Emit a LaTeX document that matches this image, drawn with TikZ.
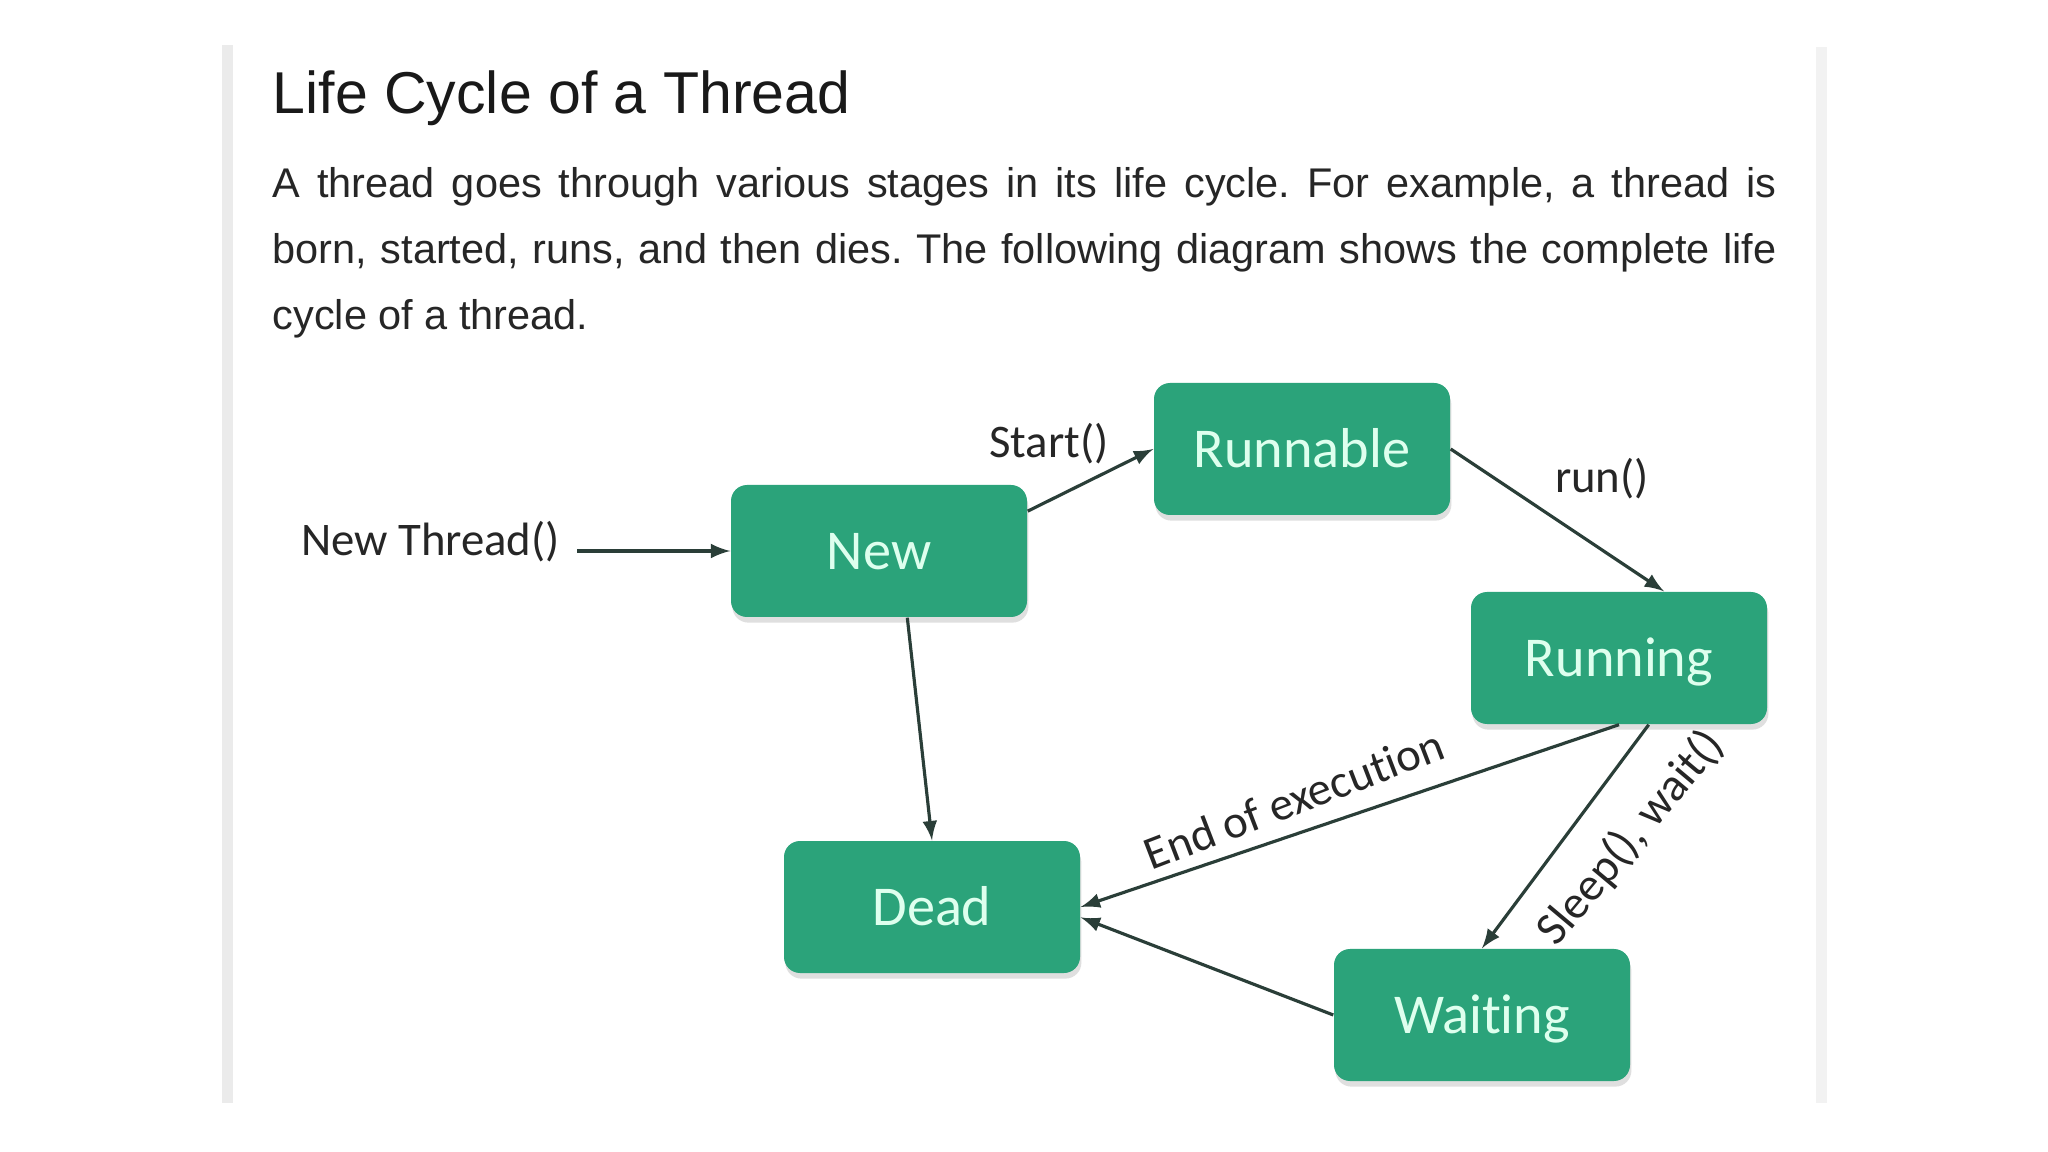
\documentclass[tikz,border=0pt]{standalone}
\usepackage{fontspec}
\setmainfont{Liberation Sans}
\newfontfamily\calibri[Ligatures=NoCommon]{Carlito}
\usetikzlibrary{shadows}

\tikzset{
  state/.style={fill=stateGreen, text=stateText, rounded corners=0.16cm,
    minimum width=2.96cm, minimum height=1.32cm, inner sep=0pt,
    text height=2.2ex, text depth=0.2ex,
    font=\calibri\fontsize{16}{19}\selectfont,
    drop shadow={shadow xshift=0.4pt, shadow yshift=-1.6pt, opacity=0.25}},
  lbl/.style={font=\calibri\fontsize{13.3}{16}\selectfont, text=black!85, inner sep=1pt},
  arr/.style={->, line width=0.9pt, draw=arrowDark}
}

\begin{document}
\frenchspacing
\begin{tikzpicture}[x=1cm, y=1cm, >=latex]

  \definecolor{stateGreen}{RGB}{43,163,122}
  \definecolor{stateText}{RGB}{222,255,238}
  \definecolor{arrowDark}{RGB}{42,62,56}

  % page and side bars
  \useasboundingbox (0,0) rectangle (20.48,-11.52);
  \fill[white] (0,0) rectangle (20.48,-11.52);
  \fill[black!8] (2.22,-0.45) rectangle (2.33,-11.03);
  \fill[black!5] (18.16,-0.47) rectangle (18.27,-11.03);

  % heading and text
  \node[anchor=base west, inner sep=0pt, font=\fontsize{16.8}{20}\selectfont, text=black!90]
    (title) at (2.72,-1.14) {Life Cycle of a Thread};
  \node[anchor=base west, inner sep=0pt, text width=15.04cm, align=justify,
    font=\fontsize{11.8}{18.7}\selectfont, text=black!85] (intro) at (2.72,-1.98)
    {A thread goes through various stages in its life cycle. For example, a thread is\linebreak
     born, started, runs, and then dies. The following diagram shows the complete life\linebreak
     cycle of a thread.};

  % states
  \node[state] (new)      at (8.79,-5.51)  {New};
  \node[state] (runnable) at (13.02,-4.49) {Runnable};
  \node[state] (running)  at (16.19,-6.58) {Running};
  \node[state] (dead)     at (9.32,-9.07)  {Dead};
  \node[state] (waiting)  at (14.82,-10.15) {Waiting};

  % labels
  \node[lbl, anchor=east] (newthread) at (5.64,-5.42) {New Thread()};
  \node[lbl] (startlbl) at (10.49,-4.44) {Start()};
  \node[lbl] (runlbl)   at (16.02,-4.79) {run()};
  \node[lbl, rotate=21] (endlbl)   at (12.94,-7.99) {End of execution};
  \node[lbl, rotate=50] (sleeplbl) at (16.31,-8.38) {Sleep(), wait()};

  % transitions
  \draw[arr, shorten <=0.13cm] (newthread.east |- new.west) -- (new.west);
  \draw[arr] (new.15) -- (runnable.west);
  \draw[arr] (runnable.east) -- (running.56);
  \draw[arr] (new.-67) -- (dead.north);
  \draw[arr] (running.south) -- (dead.east);
  \draw[arr] (running.-66) -- (waiting.north);
  \draw[arr] (waiting.west) -- (dead.-4);

\end{tikzpicture}
\end{document}
